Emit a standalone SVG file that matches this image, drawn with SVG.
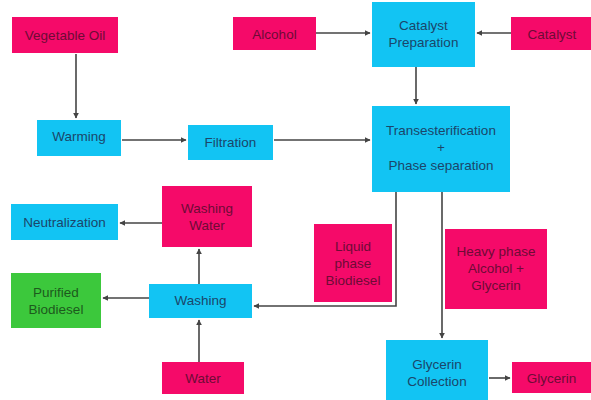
<svg xmlns="http://www.w3.org/2000/svg" width="591" height="400" viewBox="0 0 591 400">
<style>
.p{fill:#F50A69}
.b{fill:#12C4F3}
.g{fill:#3CC83C}
text{font-family:"Liberation Sans",Arial,sans-serif;font-size:13.5px;text-anchor:middle}
.tp{fill:#6E0B36}
.tb{fill:#1B466A}
.tg{fill:#1D5A1D}
.c{stroke:#444;stroke-width:1.6;fill:none;marker-end:url(#a)}
</style>
<defs>
<marker id="a" viewBox="0 0 10 10" refX="9" refY="5" markerWidth="6" markerHeight="6" orient="auto" markerUnits="userSpaceOnUse"><path d="M0,0 L10,5 L0,10 z" fill="#444"/></marker>
</defs>
<rect width="591" height="400" fill="#fff"/>
<g id="connectors">
<path class="c" d="M76,54 V118"/>
<path class="c" d="M316,33 H370"/>
<path class="c" d="M511,33 H477"/>
<path class="c" d="M416,67 V104"/>
<path class="c" d="M122,140 H186"/>
<path class="c" d="M274,140 H370"/>
<path class="c" d="M396,192 V306 H254"/>
<path class="c" d="M442,192 V338"/>
<path class="c" d="M489,378 H510"/>
<path class="c" d="M199,284 V249"/>
<path class="c" d="M199,362 V320"/>
<path class="c" d="M149,298 H103"/>
<path class="c" d="M162,223 H120"/>
</g>
<g id="vegetable-oil"><rect class="p" x="12" y="17" width="106" height="36"/><text class="tp" x="65" y="40">Vegetable Oil</text></g>
<g id="alcohol"><rect class="p" x="233" y="17" width="83" height="33"/><text class="tp" x="274.5" y="38.5">Alcohol</text></g>
<g id="catalyst-preparation"><rect class="b" x="372" y="2" width="103" height="65"/><text class="tb" x="423.5" y="30">Catalyst</text><text class="tb" x="423.5" y="47">Preparation</text></g>
<g id="catalyst"><rect class="p" x="511" y="17" width="80" height="33"/><text class="tp" x="552" y="38.5">Catalyst</text></g>
<g id="warming"><rect class="b" x="37" y="120" width="84" height="36"/><text class="tb" x="79" y="141">Warming</text></g>
<g id="filtration"><rect class="b" x="188" y="125" width="85" height="35"/><text class="tb" x="230.5" y="147">Filtration</text></g>
<g id="transesterification"><rect class="b" x="372" y="106" width="138" height="86"/><text class="tb" x="441" y="135">Transesterification</text><text class="tb" x="441" y="152">+</text><text class="tb" x="441" y="170">Phase separation</text></g>
<g id="neutralization"><rect class="b" x="11" y="204" width="107" height="36"/><text class="tb" x="64.5" y="227">Neutralization</text></g>
<g id="washing-water"><rect class="p" x="162" y="186" width="90" height="61"/><text class="tp" x="207" y="213">Washing</text><text class="tp" x="207" y="230">Water</text></g>
<g id="purified-biodiesel"><rect class="g" x="11" y="273" width="90" height="55"/><text class="tg" x="56" y="297">Purified</text><text class="tg" x="56" y="314">Biodiesel</text></g>
<g id="washing"><rect class="b" x="149" y="284" width="103" height="34"/><text class="tb" x="200.5" y="305">Washing</text></g>
<g id="water"><rect class="p" x="162" y="362" width="82" height="32"/><text class="tp" x="203" y="383">Water</text></g>
<g id="liquid-phase-biodiesel"><rect class="p" x="314" y="224" width="78" height="78"/><text class="tp" x="353" y="251">Liquid</text><text class="tp" x="353" y="268">phase</text><text class="tp" x="353" y="285">Biodiesel</text></g>
<g id="heavy-phase"><rect class="p" x="445" y="229" width="102" height="80"/><text class="tp" x="496" y="256">Heavy phase</text><text class="tp" x="496" y="273">Alcohol +</text><text class="tp" x="496" y="290">Glycerin</text></g>
<g id="glycerin-collection"><rect class="b" x="386" y="340" width="102" height="60"/><text class="tb" x="437" y="369">Glycerin</text><text class="tb" x="437" y="386">Collection</text></g>
<g id="glycerin"><rect class="p" x="512" y="362" width="79" height="31"/><text class="tp" x="551.5" y="382.5">Glycerin</text></g>
</svg>
